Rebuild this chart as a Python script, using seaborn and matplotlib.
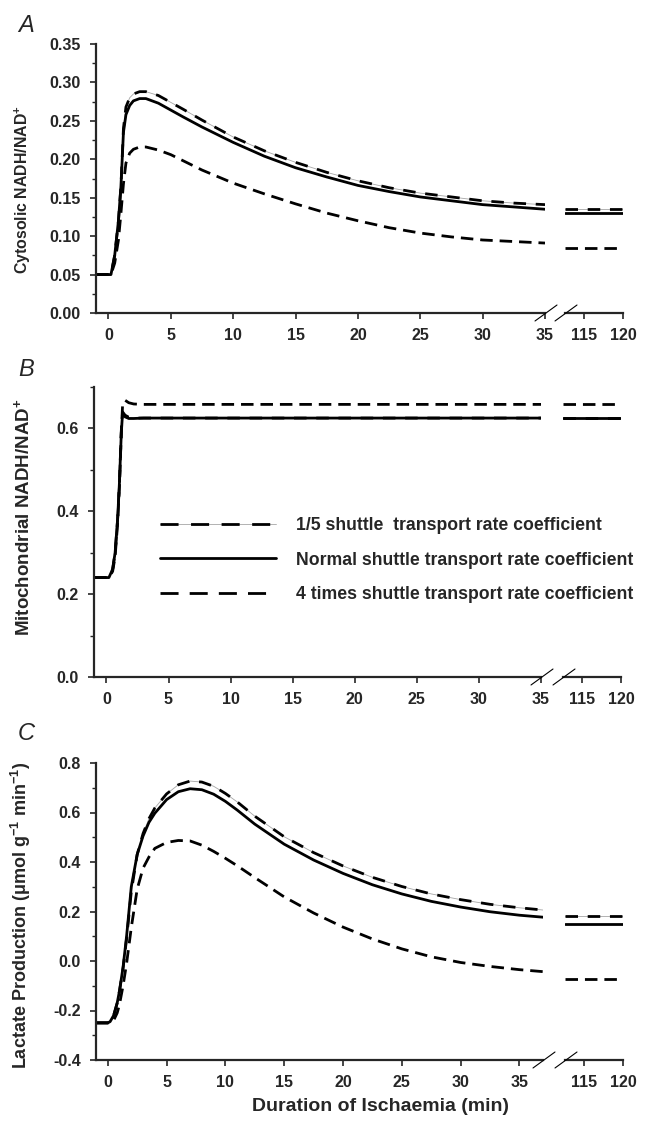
import matplotlib
matplotlib.use("Agg")
import matplotlib.pyplot as plt
import seaborn as sns
from matplotlib.lines import Line2D
from matplotlib.ticker import MultipleLocator, FormatStrFormatter
from matplotlib.legend_handler import HandlerTuple

# ---------------- data ----------------
labels = ["1/5 shuttle  transport rate coefficient",
          "Normal shuttle transport rate coefficient",
          "4 times shuttle transport rate coefficient"]

late_t = [112.5, 120]

# A: cytosolic NADH/NAD+
t_a = [-1, 0, 0.2, 0.5, 0.8, 1.0, 1.2, 1.4, 1.7, 2.0, 2.5, 3, 4, 5, 6, 7.5,
       10, 12.5, 15, 17.5, 20, 22.5, 25, 27.5, 30, 32.5, 35]
cyto_fifth = [0.05, 0.05, 0.05, 0.075, 0.12, 0.165, 0.24, 0.268, 0.28, 0.285, 0.288,
              0.288, 0.283, 0.274, 0.265, 0.251, 0.229, 0.211, 0.196, 0.183, 0.172,
              0.163, 0.156, 0.151, 0.146, 0.143, 0.141]
cyto_normal = [0.05, 0.05, 0.05, 0.075, 0.12, 0.165, 0.235, 0.258, 0.27, 0.276, 0.279,
               0.279, 0.273, 0.264, 0.255, 0.242, 0.222, 0.204, 0.189, 0.177, 0.166,
               0.158, 0.151, 0.146, 0.141, 0.138, 0.135]
cyto_four = [0.05, 0.05, 0.05, 0.065, 0.095, 0.13, 0.168, 0.195, 0.208, 0.213, 0.216,
             0.216, 0.212, 0.206, 0.198, 0.186, 0.169, 0.155, 0.142, 0.130, 0.120,
             0.111, 0.104, 0.099, 0.095, 0.093, 0.091]
cyto_late = [0.135, 0.130, 0.084]

# B: mitochondrial NADH/NAD+
t_b = [-1, 0, 0.2, 0.5, 0.7, 0.9, 1.05, 1.2, 1.3, 1.5, 1.8, 2.2, 3, 5, 10, 20, 35]
mito_fifth = [0.24, 0.24, 0.24, 0.26, 0.30, 0.38, 0.47, 0.595, 0.64, 0.632, 0.627,
              0.625, 0.625, 0.625, 0.625, 0.625, 0.625]
mito_normal = [0.24, 0.24, 0.24, 0.26, 0.30, 0.38, 0.47, 0.59, 0.636, 0.628, 0.624,
               0.624, 0.625, 0.625, 0.625, 0.625, 0.625]
mito_four = [0.24, 0.24, 0.24, 0.255, 0.29, 0.37, 0.46, 0.59, 0.655, 0.668, 0.662,
             0.659, 0.658, 0.658, 0.658, 0.658, 0.658]
mito_late = [0.625, 0.625, 0.658]

# C: lactate production
t_c = [-1, 0, 0.2, 0.5, 0.8, 1.0, 1.3, 1.6, 2.0, 2.5, 3, 3.5, 4, 5, 6, 7, 8, 9, 10,
       11, 12.5, 15, 17.5, 20, 22.5, 25, 27.5, 30, 32.5, 35, 37]
lac_fifth = [-0.25, -0.25, -0.245, -0.22, -0.17, -0.12, -0.03, 0.09, 0.28, 0.43, 0.515,
             0.575, 0.618, 0.675, 0.712, 0.727, 0.723, 0.706, 0.677, 0.643, 0.585, 0.502,
             0.438, 0.384, 0.338, 0.301, 0.271, 0.248, 0.229, 0.215, 0.206]
lac_normal = [-0.25, -0.25, -0.245, -0.22, -0.17, -0.12, -0.025, 0.10, 0.30, 0.43, 0.505,
              0.56, 0.597, 0.652, 0.684, 0.696, 0.692, 0.674, 0.645, 0.61, 0.553, 0.472,
              0.408, 0.354, 0.308, 0.271, 0.241, 0.218, 0.199, 0.185, 0.177]
lac_four = [-0.25, -0.25, -0.248, -0.24, -0.21, -0.175, -0.10, -0.01, 0.135, 0.29, 0.375,
            0.42, 0.455, 0.479, 0.487, 0.485, 0.468, 0.443, 0.415, 0.385, 0.337, 0.259,
            0.194, 0.137, 0.089, 0.049, 0.017, -0.006, -0.022, -0.035, -0.043]
lac_late = [0.181, 0.149, -0.073]

# ---------------- style ----------------
sns.set_style("ticks")
plt.rcParams["font.family"] = ["Liberation Sans", "DejaVu Sans"]
plt.rcParams["font.weight"] = "bold"
plt.rcParams["axes.labelweight"] = "bold"
plt.rcParams["mathtext.fontset"] = "custom"
plt.rcParams["mathtext.rm"] = "Liberation Sans:bold"
plt.rcParams["mathtext.bf"] = "Liberation Sans:bold"
plt.rcParams["mathtext.it"] = "Liberation Sans:bold:italic"
plt.rcParams["mathtext.default"] = "rm"

W, H = 648, 1122
fig = plt.figure(figsize=(W / 100, H / 100), dpi=100)


def add_ax(x0, x1, y0, y1):
    # pixel box -> figure fraction
    ax = fig.add_axes([x0 / W, 1 - y1 / H, (x1 - x0) / W, (y1 - y0) / H])
    ax.set_facecolor("none")
    return ax


def draw(ax, t, fifth, normal, four):
    sns.lineplot(x=t, y=fifth, ax=ax, color="0.65", lw=0.6, errorbar=None)
    sns.lineplot(x=t, y=fifth, ax=ax, color="black", lw=2,
                 linestyle=(0, (4.5, 3.5)), errorbar=None)
    sns.lineplot(x=t, y=normal, ax=ax, color="black", lw=2, errorbar=None)
    sns.lineplot(x=t, y=four, ax=ax, color="black", lw=2,
                 linestyle=(0, (4.5, 2.5)), errorbar=None)


def style(ax, right=False):
    for sp in ["top", "right"]:
        ax.spines[sp].set_visible(False)
    ax.spines["bottom"].set_linewidth(1.6)
    ax.spines["left"].set_linewidth(1.6)
    ax.tick_params(axis="both", which="major", labelsize=11.5, width=1.2, length=4, pad=7)
    ax.tick_params(axis="y", which="minor", width=1.0, length=3)
    if right:
        ax.spines["left"].set_visible(False)
        ax.set_yticks([])
        ax.set_xlim(112.5, 120)
        ax.set_xticks([115, 120])
    else:
        ax.set_xticks(range(0, 36, 5))


def breaks(x_left, x_right, y):
    for xc in (x_left, x_right):
        fig.add_artist(Line2D([(xc - 11) / W, (xc + 11) / W],
                              [1 - (y + 8) / H, 1 - (y - 8) / H],
                              color="black", lw=0.8))


panels = [
    # (left box, right box, t, series, late, ylim, major, fmt, ylabel, letter, xlim, label size)
    ((96, 545, 44, 313), (565, 623), t_a, (cyto_fifth, cyto_normal, cyto_four), cyto_late,
     (0, 0.35), 0.05, "%.2f", "Cytosolic NADH/NAD$^{+}$", "A", (-1, 35), 11.4),
    ((94, 541, 387, 677), (563, 621), t_b, (mito_fifth, mito_normal, mito_four), mito_late,
     (0, 0.7), 0.2, "%.1f", "Mitochondrial NADH/NAD$^{+}$", "B", (-1, 35), 13.5),
    ((96, 543, 763, 1060), (565, 623), t_c, (lac_fifth, lac_normal, lac_four), lac_late,
     (-0.4, 0.8), 0.2, "%.1f", "Lactate Production (μmol g$^{-1}$ min$^{-1}$)", "C", (-1, 37), 13),
]
letter_y = {"A": 25, "B": 369, "C": 734}
label_y = {"A": 190, "B": 517, "C": 915}

ax_b = None
for (x0, x1, y0, y1), (r0, r1), t, ser, late, ylim, major, fmt, ylab, letter, xlim, lsize in panels:
    ax = add_ax(x0, x1, y0, y1)
    axr = add_ax(r0, r1, y0, y1)
    draw(ax, t, *ser)
    draw(axr, late_t, *[[v, v] for v in late])
    if letter == "B":
        ax_b = ax
    ax.set_xlim(*xlim)
    ax.set_ylim(*ylim)
    axr.set_ylim(*ylim)
    ax.yaxis.set_major_locator(MultipleLocator(major))
    ax.yaxis.set_minor_locator(MultipleLocator(major / 2))
    ax.yaxis.set_major_formatter(FormatStrFormatter(fmt))
    style(ax)
    style(axr, right=True)
    ax.set_ylabel(ylab, fontsize=lsize)
    ax.yaxis.set_label_coords((33 - x0) / (x1 - x0), (y1 - label_y[letter]) / (y1 - y0))
    breaks(x1 + 1, r0 + 1, y1)
    fig.text(26 / W, 1 - letter_y[letter] / H, letter, fontsize=17, style="italic",
             fontweight="normal", ha="center", va="center")
    if letter == "C":
        ax.set_xlabel("Duration of Ischaemia (min)", fontsize=14)
        ax.xaxis.set_label_coords((381 - x0) / (x1 - x0), (y1 - 1098) / (y1 - y0))

# legend keys use the longer dashes seen in the original key
key_fifth = (Line2D([], [], color="0.65", lw=0.6),
             Line2D([], [], color="black", lw=2, linestyle=(0, (6.5, 4.5))))
key_normal = Line2D([], [], color="black", lw=2)
key_four = Line2D([], [], color="black", lw=2, linestyle=(0, (6.5, 4)))
ax_b.legend(handles=[key_fifth, key_normal, key_four], labels=labels,
            handler_map={tuple: HandlerTuple(ndivide=1)},
            loc="upper left", bbox_to_anchor=(160 / W, 1 - 517 / H),
            bbox_transform=fig.transFigure, frameon=False, fontsize=12.7,
            handlelength=6.6, handletextpad=1.1, labelspacing=1.0,
            borderpad=0, borderaxespad=0)

fig.savefig("out.png", dpi=100)
